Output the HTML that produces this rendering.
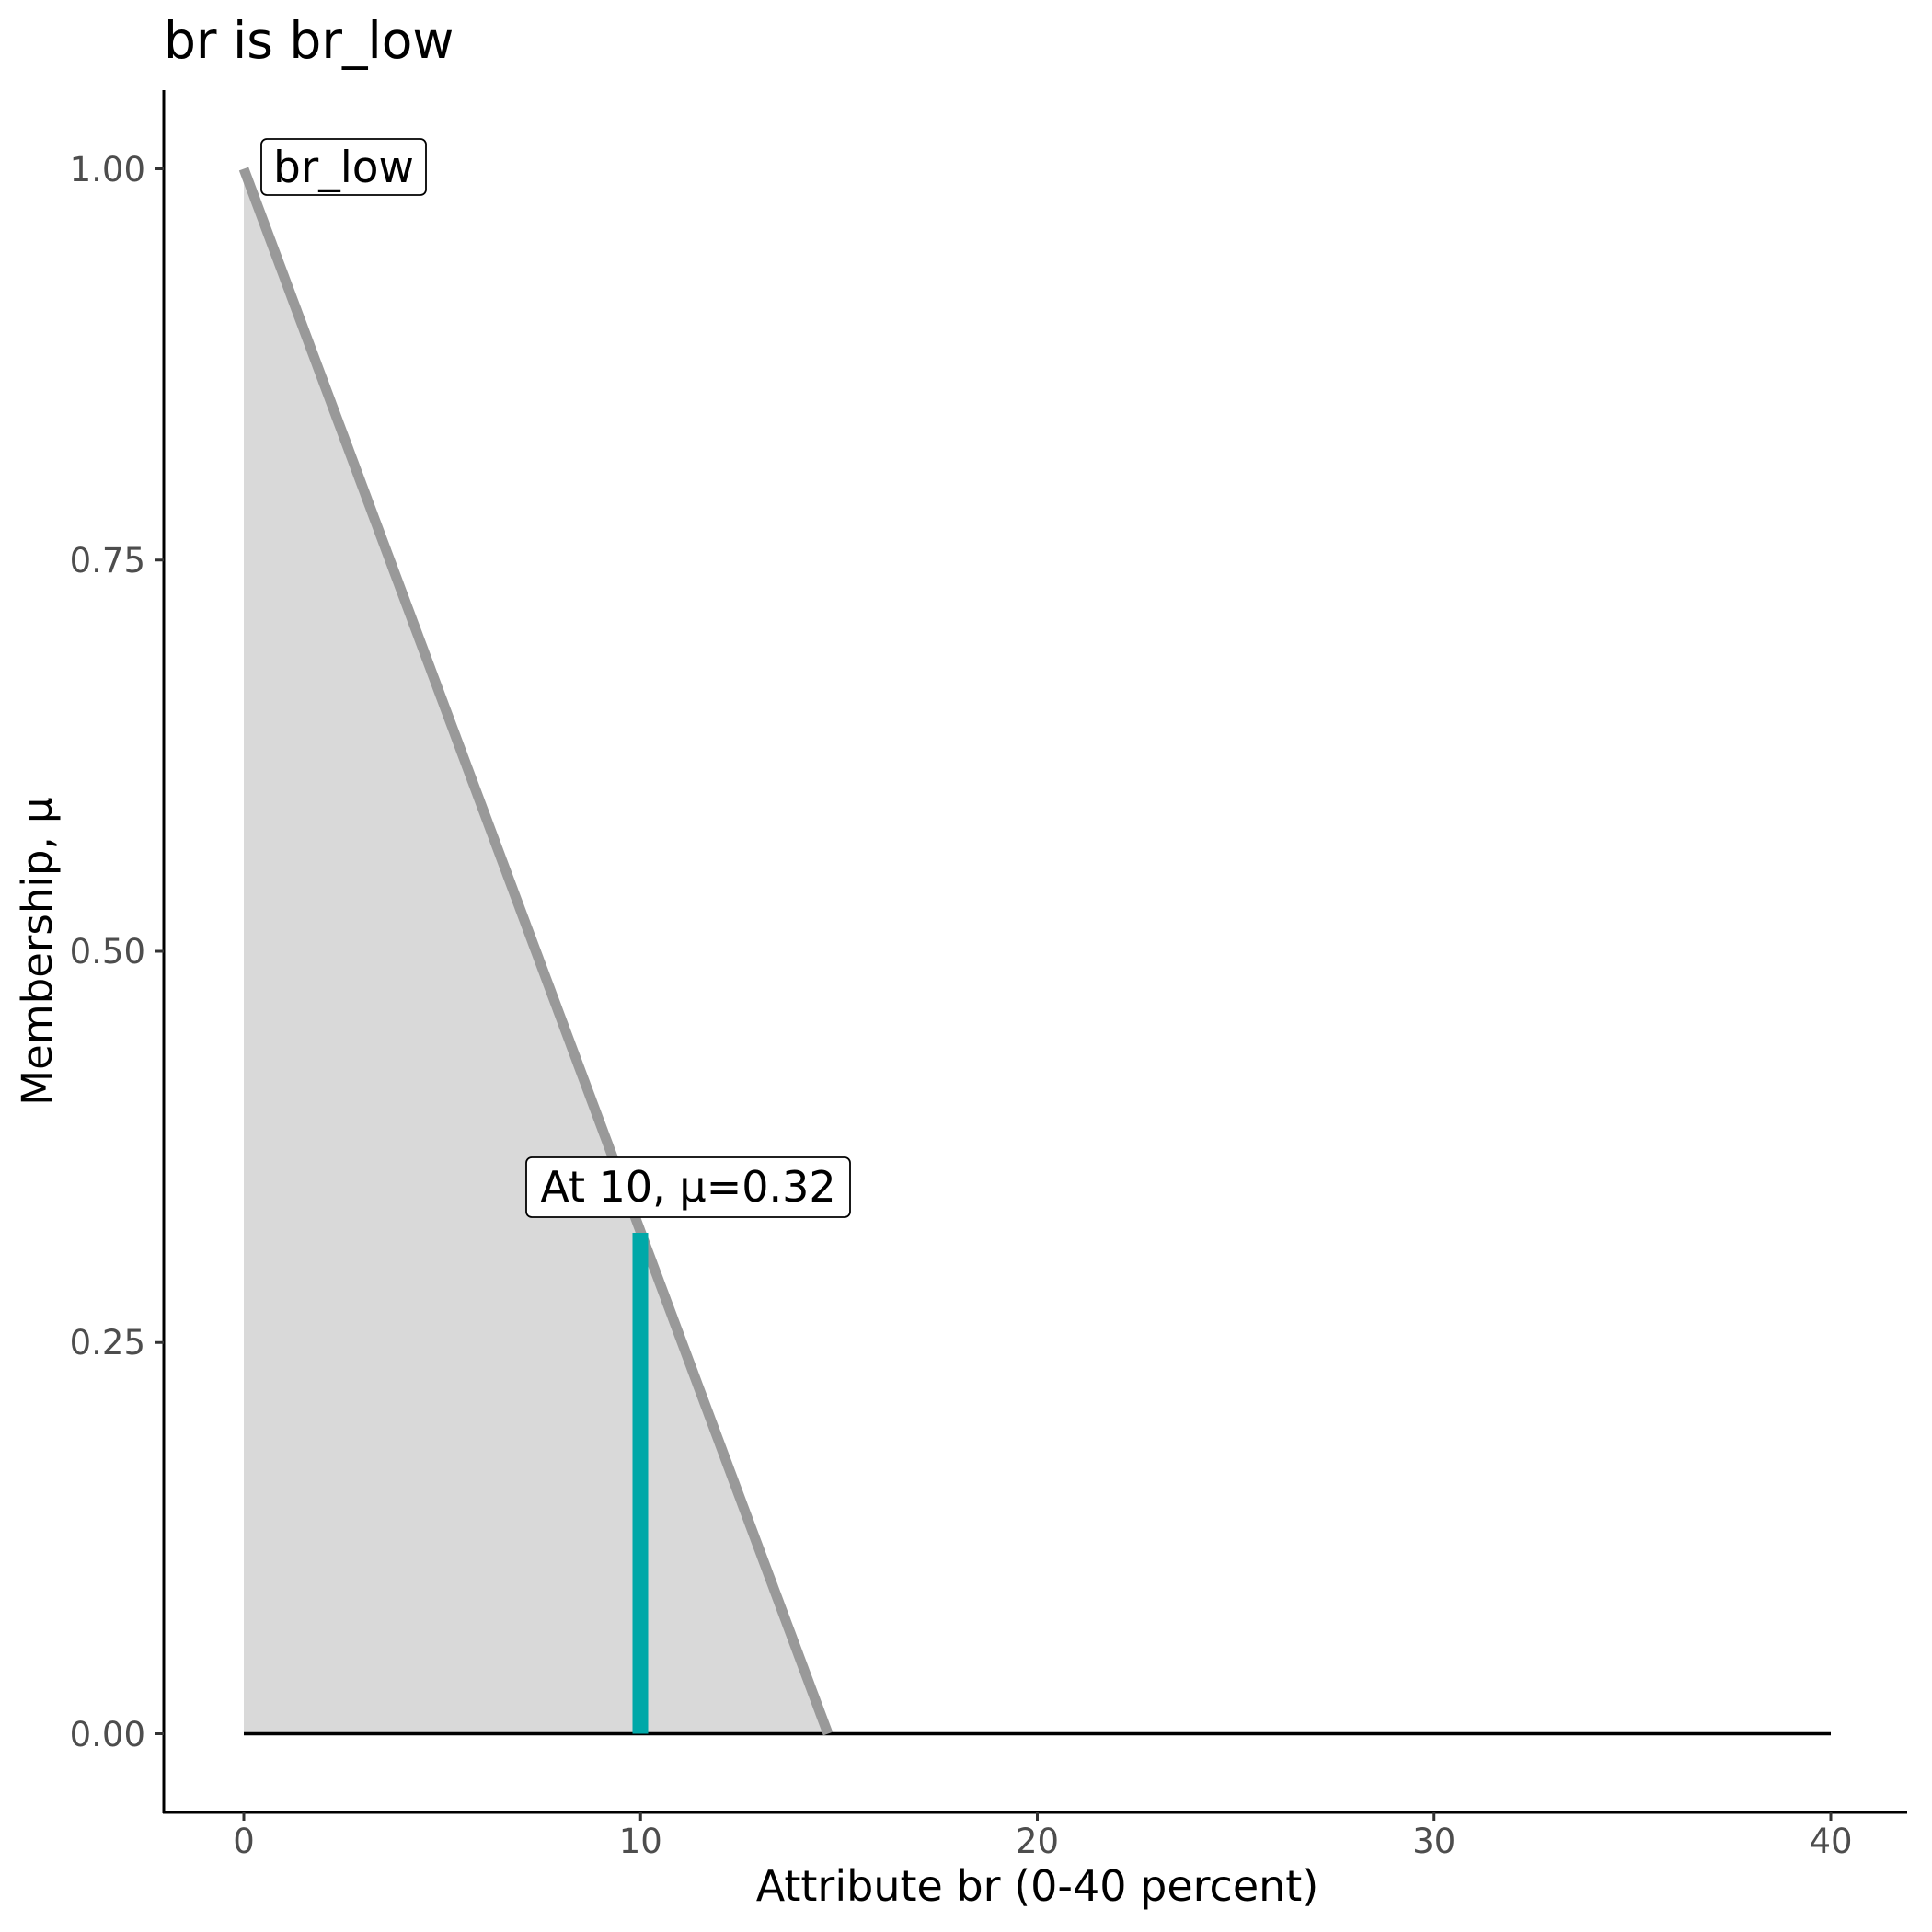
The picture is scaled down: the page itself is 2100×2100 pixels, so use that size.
<!DOCTYPE html>
<html><head><meta charset="utf-8"><style>
html,body{margin:0;padding:0;background:#fff;}
svg{display:block;}
text{font-family:"DejaVu Sans","Liberation Sans",sans-serif;}
</style></head><body>
<svg width="2100" height="2100" viewBox="0 0 2100 2100" xmlns="http://www.w3.org/2000/svg">
<rect width="2100" height="2100" fill="#fff"/>
<text x="178" y="63" font-size="55" fill="#000">br is br_low</text>
<polygon points="265,183.5 900,1884.5 265,1884.5" fill="#d9d9d9"/>
<line x1="265" y1="1884.5" x2="1990" y2="1884.5" stroke="#000" stroke-width="3.5"/>
<line x1="265" y1="183.5" x2="900" y2="1884.5" stroke="#999" stroke-width="11"/>
<line x1="696" y1="1340" x2="696" y2="1884.5" stroke="#00a8a8" stroke-width="17"/>
<rect x="284" y="151" width="179" height="61" rx="6" fill="#fff" stroke="#000" stroke-width="1.8"/>
<text x="373.5" y="198" font-size="47" text-anchor="middle" fill="#000">br_low</text>
<rect x="572" y="1258" width="352" height="65" rx="6" fill="#fff" stroke="#000" stroke-width="1.8"/>
<text x="748" y="1306" font-size="46" text-anchor="middle" fill="#000">At 10, μ=0.32</text>
<line x1="178" y1="98" x2="178" y2="1971" stroke="#000" stroke-width="3"/>
<line x1="177" y1="1970" x2="2073" y2="1970" stroke="#000" stroke-width="3"/>
<g stroke="#333" stroke-width="3">
<line x1="169" y1="183.5" x2="178" y2="183.5"/>
<line x1="169" y1="608.75" x2="178" y2="608.75"/>
<line x1="169" y1="1034" x2="178" y2="1034"/>
<line x1="169" y1="1459.25" x2="178" y2="1459.25"/>
<line x1="169" y1="1884.5" x2="178" y2="1884.5"/>
<line x1="265" y1="1970" x2="265" y2="1979"/>
<line x1="696.25" y1="1970" x2="696.25" y2="1979"/>
<line x1="1127.5" y1="1970" x2="1127.5" y2="1979"/>
<line x1="1558.75" y1="1970" x2="1558.75" y2="1979"/>
<line x1="1990" y1="1970" x2="1990" y2="1979"/>
</g>
<g font-size="37" fill="#4d4d4d" text-anchor="end">
<text x="158" y="197">1.00</text>
<text x="158" y="622">0.75</text>
<text x="158" y="1047">0.50</text>
<text x="158" y="1472">0.25</text>
<text x="158" y="1898">0.00</text>
</g>
<g font-size="37" fill="#4d4d4d" text-anchor="middle">
<text x="265" y="2014">0</text>
<text x="696.25" y="2014">10</text>
<text x="1127.5" y="2014">20</text>
<text x="1558.75" y="2014">30</text>
<text x="1990" y="2014">40</text>
</g>
<text x="1127.5" y="2066" font-size="46" text-anchor="middle" fill="#000">Attribute br (0-40 percent)</text>
<text transform="translate(56,1034) rotate(-90)" font-size="45" text-anchor="middle" fill="#000">Membership, μ</text>
</svg>
</body></html>
